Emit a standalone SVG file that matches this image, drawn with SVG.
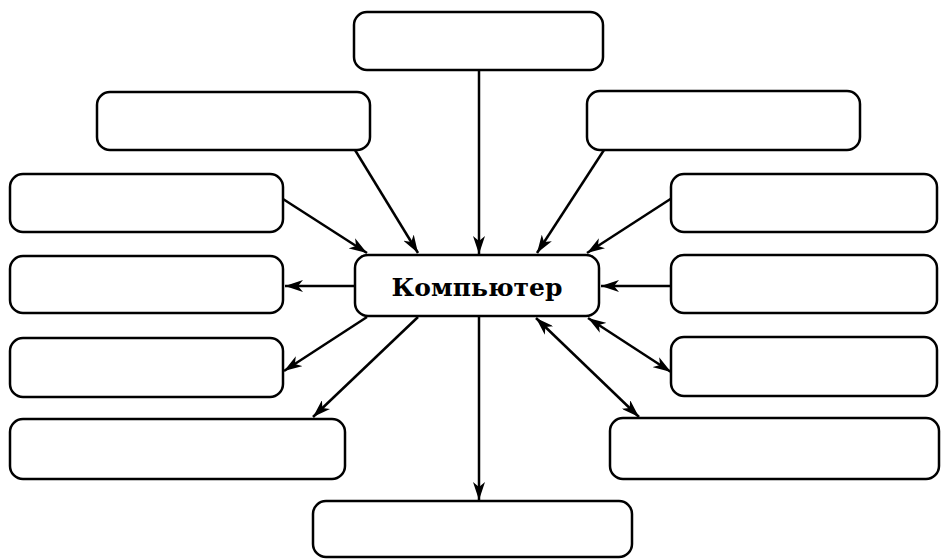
<svg xmlns="http://www.w3.org/2000/svg" width="941" height="559" viewBox="0 0 941 559">
<style>
.b{fill:#fff;stroke:#000;stroke-width:2.5}
.c{stroke:#000;stroke-width:2.5;fill:none}
.t{font-family:"DejaVu Serif","Liberation Serif",serif;font-weight:bold;font-size:25px;fill:#000}
</style>
<defs>
<marker id="a" viewBox="0 0 18 12" refX="18" refY="6" markerWidth="18" markerHeight="12" markerUnits="userSpaceOnUse" orient="auto-start-reverse">
<path d="M0,0 L18,6 L0,12 L5,6 Z" fill="#000"/>
</marker>
</defs>
<rect width="941" height="559" fill="#fff"/>
<g id="connectors">
<line class="c" x1="479" y1="70" x2="479" y2="254" marker-end="url(#a)"/>
<line class="c" x1="355" y1="150" x2="418" y2="253" marker-end="url(#a)"/>
<line class="c" x1="283" y1="199" x2="367" y2="253" marker-end="url(#a)"/>
<line class="c" x1="355" y1="286" x2="285" y2="286" marker-end="url(#a)"/>
<line class="c" x1="367" y1="317" x2="284" y2="371" marker-end="url(#a)"/>
<line class="c" x1="418" y1="317" x2="313" y2="417" marker-end="url(#a)"/>
<line class="c" x1="479" y1="316" x2="479" y2="500" marker-end="url(#a)"/>
<line class="c" x1="604" y1="150" x2="537" y2="253" marker-end="url(#a)"/>
<line class="c" x1="672" y1="198" x2="587" y2="253" marker-end="url(#a)"/>
<line class="c" x1="671" y1="286" x2="601" y2="286" marker-end="url(#a)"/>
<line class="c" x1="588" y1="318" x2="671" y2="372" marker-start="url(#a)" marker-end="url(#a)"/>
<line class="c" x1="536" y1="318" x2="639" y2="417" marker-start="url(#a)" marker-end="url(#a)"/>
</g>
<g id="center"><rect class="b" x="355" y="255" width="244" height="61" rx="13"/><text class="t" x="477" y="296" text-anchor="middle">Компьютер</text></g>
<g id="top"><rect class="b" x="354" y="12" width="249" height="58" rx="13"/></g>
<g id="upper-left"><rect class="b" x="97" y="92" width="273" height="58" rx="13"/></g>
<g id="upper-right"><rect class="b" x="587" y="91" width="273" height="59" rx="13"/></g>
<g id="left1"><rect class="b" x="10" y="174" width="273" height="58" rx="13"/></g>
<g id="left2"><rect class="b" x="10" y="256" width="273" height="57" rx="13"/></g>
<g id="left3"><rect class="b" x="10" y="338" width="273" height="59" rx="13"/></g>
<g id="left4"><rect class="b" x="10" y="419" width="335" height="60" rx="13"/></g>
<g id="right1"><rect class="b" x="671" y="174" width="266" height="58" rx="13"/></g>
<g id="right2"><rect class="b" x="671" y="255" width="266" height="58" rx="13"/></g>
<g id="right3"><rect class="b" x="671" y="337" width="266" height="59" rx="13"/></g>
<g id="right4"><rect class="b" x="610" y="418" width="329" height="61" rx="13"/></g>
<g id="bottom"><rect class="b" x="313" y="501" width="319" height="56" rx="13"/></g>
</svg>
